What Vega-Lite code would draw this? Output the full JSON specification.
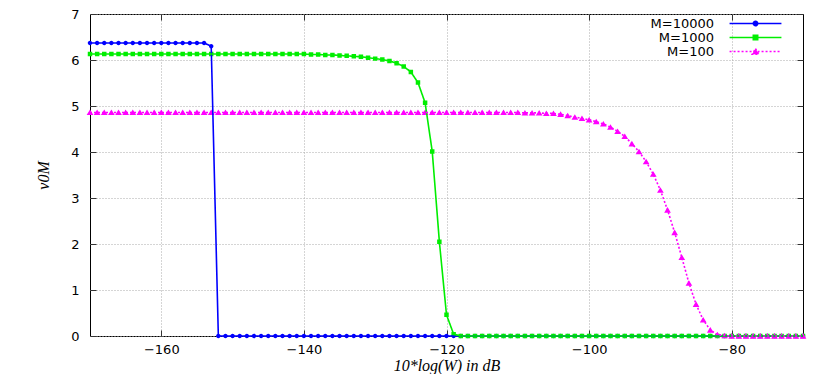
{
  "$schema": "https://vega.github.io/schema/vega-lite/v6.json",
  "width": 713,
  "height": 322,
  "autosize": {"type": "none"},
  "padding": {"left": 90, "top": 14, "right": 27, "bottom": 38},
  "background": "white",
  "config": {
    "view": {"stroke": "black", "strokeWidth": 1},
    "axis": {
      "domain": false,
      "labelFont": "DejaVu Sans",
      "labelFontSize": 13,
      "labelColor": "black",
      "tickColor": "#333333",
      "tickSize": -6,
      "tickWidth": 1,
      "titleFont": "Liberation Serif",
      "titleFontStyle": "italic",
      "titleFontWeight": "normal",
      "titleFontSize": 16,
      "titleColor": "black",
      "gridColor": "#aaaaaa",
      "gridDash": [1, 2],
      "gridWidth": 1
    },
    "legend": {
      "padding": 0,
      "rowPadding": -2,
      "labelFont": "DejaVu Sans",
      "labelFontSize": 13,
      "labelColor": "black",
      "labelAlign": "right",
      "labelOffset": -48,
      "symbolSize": 20,
      "symbolStrokeWidth": 1.5
    }
  },
  "data": {
    "values": [
      {"x": -170, "M=10000": 6.37, "M=1000": 6.13, "M=100": 4.86},
      {"x": -169, "M=10000": 6.37, "M=1000": 6.13, "M=100": 4.86},
      {"x": -168, "M=10000": 6.37, "M=1000": 6.13, "M=100": 4.86},
      {"x": -167, "M=10000": 6.37, "M=1000": 6.13, "M=100": 4.86},
      {"x": -166, "M=10000": 6.37, "M=1000": 6.13, "M=100": 4.86},
      {"x": -165, "M=10000": 6.37, "M=1000": 6.13, "M=100": 4.86},
      {"x": -164, "M=10000": 6.37, "M=1000": 6.13, "M=100": 4.86},
      {"x": -163, "M=10000": 6.37, "M=1000": 6.13, "M=100": 4.86},
      {"x": -162, "M=10000": 6.37, "M=1000": 6.13, "M=100": 4.86},
      {"x": -161, "M=10000": 6.37, "M=1000": 6.13, "M=100": 4.86},
      {"x": -160, "M=10000": 6.37, "M=1000": 6.13, "M=100": 4.86},
      {"x": -159, "M=10000": 6.37, "M=1000": 6.13, "M=100": 4.86},
      {"x": -158, "M=10000": 6.37, "M=1000": 6.13, "M=100": 4.86},
      {"x": -157, "M=10000": 6.37, "M=1000": 6.13, "M=100": 4.86},
      {"x": -156, "M=10000": 6.37, "M=1000": 6.13, "M=100": 4.86},
      {"x": -155, "M=10000": 6.37, "M=1000": 6.13, "M=100": 4.86},
      {"x": -154, "M=10000": 6.37, "M=1000": 6.13, "M=100": 4.86},
      {"x": -153, "M=10000": 6.30, "M=1000": 6.13, "M=100": 4.86},
      {"x": -152, "M=10000": 0, "M=1000": 6.13, "M=100": 4.86},
      {"x": -151, "M=10000": 0, "M=1000": 6.13, "M=100": 4.86},
      {"x": -150, "M=10000": 0, "M=1000": 6.13, "M=100": 4.86},
      {"x": -149, "M=10000": 0, "M=1000": 6.13, "M=100": 4.86},
      {"x": -148, "M=10000": 0, "M=1000": 6.13, "M=100": 4.86},
      {"x": -147, "M=10000": 0, "M=1000": 6.13, "M=100": 4.86},
      {"x": -146, "M=10000": 0, "M=1000": 6.13, "M=100": 4.86},
      {"x": -145, "M=10000": 0, "M=1000": 6.13, "M=100": 4.86},
      {"x": -144, "M=10000": 0, "M=1000": 6.13, "M=100": 4.86},
      {"x": -143, "M=10000": 0, "M=1000": 6.13, "M=100": 4.86},
      {"x": -142, "M=10000": 0, "M=1000": 6.13, "M=100": 4.86},
      {"x": -141, "M=10000": 0, "M=1000": 6.13, "M=100": 4.86},
      {"x": -140, "M=10000": 0, "M=1000": 6.13, "M=100": 4.86},
      {"x": -139, "M=10000": 0, "M=1000": 6.12, "M=100": 4.86},
      {"x": -138, "M=10000": 0, "M=1000": 6.12, "M=100": 4.86},
      {"x": -137, "M=10000": 0, "M=1000": 6.11, "M=100": 4.86},
      {"x": -136, "M=10000": 0, "M=1000": 6.11, "M=100": 4.86},
      {"x": -135, "M=10000": 0, "M=1000": 6.10, "M=100": 4.86},
      {"x": -134, "M=10000": 0, "M=1000": 6.09, "M=100": 4.86},
      {"x": -133, "M=10000": 0, "M=1000": 6.08, "M=100": 4.86},
      {"x": -132, "M=10000": 0, "M=1000": 6.07, "M=100": 4.86},
      {"x": -131, "M=10000": 0, "M=1000": 6.05, "M=100": 4.86},
      {"x": -130, "M=10000": 0, "M=1000": 6.03, "M=100": 4.86},
      {"x": -129, "M=10000": 0, "M=1000": 6.01, "M=100": 4.86},
      {"x": -128, "M=10000": 0, "M=1000": 5.98, "M=100": 4.86},
      {"x": -127, "M=10000": 0, "M=1000": 5.93, "M=100": 4.86},
      {"x": -126, "M=10000": 0, "M=1000": 5.86, "M=100": 4.86},
      {"x": -125, "M=10000": 0, "M=1000": 5.74, "M=100": 4.86},
      {"x": -124, "M=10000": 0, "M=1000": 5.51, "M=100": 4.86},
      {"x": -123, "M=10000": 0, "M=1000": 5.07, "M=100": 4.86},
      {"x": -122, "M=10000": 0, "M=1000": 4.01, "M=100": 4.86},
      {"x": -121, "M=10000": 0, "M=1000": 2.05, "M=100": 4.86},
      {"x": -120, "M=10000": 0, "M=1000": 0.46, "M=100": 4.86},
      {"x": -119, "M=10000": 0, "M=1000": 0.04, "M=100": 4.86},
      {"x": -118, "M=10000": 0, "M=1000": 0, "M=100": 4.86},
      {"x": -117, "M=10000": 0, "M=1000": 0, "M=100": 4.86},
      {"x": -116, "M=10000": 0, "M=1000": 0, "M=100": 4.86},
      {"x": -115, "M=10000": 0, "M=1000": 0, "M=100": 4.86},
      {"x": -114, "M=10000": 0, "M=1000": 0, "M=100": 4.86},
      {"x": -113, "M=10000": 0, "M=1000": 0, "M=100": 4.86},
      {"x": -112, "M=10000": 0, "M=1000": 0, "M=100": 4.86},
      {"x": -111, "M=10000": 0, "M=1000": 0, "M=100": 4.86},
      {"x": -110, "M=10000": 0, "M=1000": 0, "M=100": 4.86},
      {"x": -109, "M=10000": 0, "M=1000": 0, "M=100": 4.85},
      {"x": -108, "M=10000": 0, "M=1000": 0, "M=100": 4.85},
      {"x": -107, "M=10000": 0, "M=1000": 0, "M=100": 4.85},
      {"x": -106, "M=10000": 0, "M=1000": 0, "M=100": 4.84},
      {"x": -105, "M=10000": 0, "M=1000": 0, "M=100": 4.84},
      {"x": -104, "M=10000": 0, "M=1000": 0, "M=100": 4.82},
      {"x": -103, "M=10000": 0, "M=1000": 0, "M=100": 4.79},
      {"x": -102, "M=10000": 0, "M=1000": 0, "M=100": 4.76},
      {"x": -101, "M=10000": 0, "M=1000": 0, "M=100": 4.73},
      {"x": -100, "M=10000": 0, "M=1000": 0, "M=100": 4.70},
      {"x": -99, "M=10000": 0, "M=1000": 0, "M=100": 4.66},
      {"x": -98, "M=10000": 0, "M=1000": 0, "M=100": 4.61},
      {"x": -97, "M=10000": 0, "M=1000": 0, "M=100": 4.54},
      {"x": -96, "M=10000": 0, "M=1000": 0, "M=100": 4.45},
      {"x": -95, "M=10000": 0, "M=1000": 0, "M=100": 4.34},
      {"x": -94, "M=10000": 0, "M=1000": 0, "M=100": 4.18},
      {"x": -93, "M=10000": 0, "M=1000": 0, "M=100": 4.01},
      {"x": -92, "M=10000": 0, "M=1000": 0, "M=100": 3.79},
      {"x": -91, "M=10000": 0, "M=1000": 0, "M=100": 3.52},
      {"x": -90, "M=10000": 0, "M=1000": 0, "M=100": 3.17},
      {"x": -89, "M=10000": 0, "M=1000": 0, "M=100": 2.74},
      {"x": -88, "M=10000": 0, "M=1000": 0, "M=100": 2.25},
      {"x": -87, "M=10000": 0, "M=1000": 0, "M=100": 1.71},
      {"x": -86, "M=10000": 0, "M=1000": 0, "M=100": 1.15},
      {"x": -85, "M=10000": 0, "M=1000": 0, "M=100": 0.69},
      {"x": -84, "M=10000": 0, "M=1000": 0, "M=100": 0.35},
      {"x": -83, "M=10000": 0, "M=1000": 0, "M=100": 0.13},
      {"x": -82, "M=10000": 0, "M=1000": 0, "M=100": 0.03},
      {"x": -81, "M=10000": 0, "M=1000": 0, "M=100": 0.01},
      {"x": -80, "M=10000": 0, "M=1000": 0, "M=100": 0},
      {"x": -79, "M=10000": 0, "M=1000": 0, "M=100": 0},
      {"x": -78, "M=10000": 0, "M=1000": 0, "M=100": 0},
      {"x": -77, "M=10000": 0, "M=1000": 0, "M=100": 0},
      {"x": -76, "M=10000": 0, "M=1000": 0, "M=100": 0},
      {"x": -75, "M=10000": 0, "M=1000": 0, "M=100": 0},
      {"x": -74, "M=10000": 0, "M=1000": 0, "M=100": 0},
      {"x": -73, "M=10000": 0, "M=1000": 0, "M=100": 0},
      {"x": -72, "M=10000": 0, "M=1000": 0, "M=100": 0},
      {"x": -71, "M=10000": 0, "M=1000": 0, "M=100": 0},
      {"x": -70, "M=10000": 0, "M=1000": 0, "M=100": 0}
    ]
  },
  "transform": [
    {"fold": ["M=10000", "M=1000", "M=100"], "as": ["series", "v"]}
  ],
  "layer": [
    {
      "mark": {"type": "point", "filled": true, "opacity": 1, "size": 20, "strokeWidth": 0},
      "encoding": {
        "x": {
          "field": "x", "type": "quantitative",
          "scale": {"domain": [-170, -70], "nice": false, "zero": false},
          "axis": {"orient": "top", "values": [-160, -140, -120, -100, -80], "title": null, "labels": false, "grid": false}
        },
        "y": {
          "field": "v", "type": "quantitative",
          "scale": {"domain": [0, 7], "nice": false},
          "axis": {"orient": "right", "values": [0, 1, 2, 3, 4, 5, 6, 7], "title": null, "labels": false, "grid": false}
        },
        "color": {
          "field": "series", "type": "nominal",
          "scale": {"domain": ["M=10000", "M=1000", "M=100"], "range": ["#0000ff", "#00ee00", "#ff00ff"]},
          "legend": {"title": null, "orient": "none", "legendX": 659, "legendY": 3}
        },
        "stroke": {
          "field": "series", "type": "nominal",
          "scale": {"domain": ["M=10000", "M=1000", "M=100"], "range": ["#0000ff", "#00ee00", "#ff00ff"]},
          "legend": {"title": null, "orient": "none", "legendX": 659, "legendY": 3}
        },
        "shape": {
          "field": "series", "type": "nominal",
          "scale": {
            "domain": ["M=10000", "M=1000", "M=100"],
            "range": [
              "M-11.6,0H11.6M-1,0A1,1 0 1,0 1,0A1,1 0 1,0 -1,0Z",
              "M-11.6,0H11.6M-1,-1H1V1H-1Z",
              "M-11.6,0H11.6M0,-1.3L1.5,1.2L-1.5,1.2Z"
            ]
          },
          "legend": {"title": null, "orient": "none", "legendX": 659, "legendY": 3}
        }
      }
    },
    {
      "mark": {"type": "line", "strokeWidth": 1.6},
      "encoding": {
        "x": {
          "field": "x", "type": "quantitative",
          "scale": {"domain": [-170, -70], "nice": false, "zero": false},
          "axis": {"orient": "bottom", "values": [-160, -140, -120, -100, -80], "title": "10*log(W) in dB", "grid": true, "labelPadding": 13, "titlePadding": 1}
        },
        "y": {
          "field": "v", "type": "quantitative",
          "scale": {"domain": [0, 7], "nice": false},
          "axis": {"orient": "left", "values": [0, 1, 2, 3, 4, 5, 6, 7], "title": "v0M", "grid": true, "labelPadding": 17, "titlePadding": 19}
        },
        "color": {
          "field": "series", "type": "nominal",
          "scale": {"domain": ["M=10000", "M=1000", "M=100"], "range": ["#0000ff", "#00ee00", "#ff00ff"]},
          "legend": {"title": null, "orient": "none", "legendX": 659, "legendY": 3}
        },
        "strokeDash": {
          "field": "series", "type": "nominal",
          "scale": {"domain": ["M=10000", "M=1000", "M=100"], "range": [[1, 0], [1, 0], [2, 2]]},
          "legend": {"title": null, "orient": "none", "legendX": 659, "legendY": 3}
        }
      }
    }
  ],
  "resolve": {"axis": {"x": "independent", "y": "independent"}}
}
